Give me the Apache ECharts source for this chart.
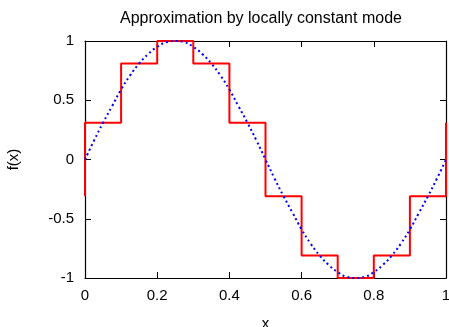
<!DOCTYPE html>
<html>
<head>
<meta charset="utf-8">
<script src="https://cdn.jsdelivr.net/npm/echarts@6/dist/echarts.min.js"></script>
<style>
  html, body { margin: 0; padding: 0; background: #fff; }
  #chart { width: 449px; height: 327px; }
</style>
</head>
<body>
<div id="chart"></div>
<script>
// blue dotted curve, every 0.025
var curveX = [0, 0.025, 0.05, 0.075, 0.1, 0.125, 0.15, 0.175, 0.2, 0.225, 0.25,
  0.275, 0.3, 0.325, 0.35, 0.375, 0.4, 0.425, 0.45, 0.475, 0.5,
  0.525, 0.55, 0.575, 0.6, 0.625, 0.65, 0.675, 0.7, 0.725, 0.75,
  0.775, 0.8, 0.825, 0.85, 0.875, 0.9, 0.925, 0.95, 0.975, 1];
var curveY = [0, 0.16, 0.31, 0.45, 0.59, 0.71, 0.81, 0.89, 0.95, 0.99, 1,
  0.99, 0.95, 0.89, 0.81, 0.71, 0.59, 0.45, 0.31, 0.16, 0,
  -0.16, -0.31, -0.45, -0.59, -0.71, -0.81, -0.89, -0.95, -0.99, -1,
  -0.99, -0.95, -0.89, -0.81, -0.71, -0.59, -0.45, -0.31, -0.16, 0];

// red step function: breakpoints and the level held on each interval
var stepEdges = [0, 0.1, 0.2, 0.3, 0.4, 0.5, 0.6, 0.7, 0.8, 0.9, 1];
var stepLevels = [0.31, 0.81, 1, 0.81, 0.31, -0.31, -0.81, -1, -0.81, -0.31];
var startLevel = -0.31;
var endLevel = 0.31;

var curveData = curveX.map(function (x, i) { return [x, curveY[i]]; });

var stepData = [[stepEdges[0], startLevel]];
for (var i = 0; i < stepLevels.length; i++) {
  stepData.push([stepEdges[i], stepLevels[i]]);
  stepData.push([stepEdges[i + 1], stepLevels[i]]);
}
stepData.push([stepEdges[stepEdges.length - 1], endLevel]);

var font = 'Liberation Sans, Helvetica, Arial, sans-serif';

// box axis: mirrored ticks pointing inward, no labels on the copies
function boxAxis(pos, min, max, step, withLabels) {
  return {
    type: 'value',
    position: pos,
    min: min, max: max, interval: step,
    axisLine: { show: true, onZero: false, lineStyle: { color: '#000', width: 1.2 } },
    axisTick: { show: true, inside: true, length: 6, lineStyle: { color: '#000' } },
    axisLabel: { show: withLabels, fontFamily: font, fontSize: 15, color: '#000' },
    splitLine: { show: false }
  };
}

var xMain = boxAxis('bottom', 0, 1, 0.2, true);
xMain.axisLabel.margin = 10;
xMain.name = 'x';
xMain.nameLocation = 'middle';
xMain.nameGap = 38;
xMain.nameTextStyle = { fontFamily: font, fontSize: 15, color: '#000' };

var yMain = boxAxis('left', -1, 1, 0.5, true);
yMain.axisLabel.margin = 11;
yMain.name = 'f(x)';
yMain.nameLocation = 'middle';
yMain.nameGap = 64;
yMain.nameRotate = 90;
yMain.nameTextStyle = { fontFamily: font, fontSize: 15, color: '#000' };

var chart = echarts.init(document.getElementById('chart'));
var option = {
  backgroundColor: '#fff',
  animation: false,
  title: {
    text: 'Approximation by locally constant mode',
    left: 115,
    top: 6,
    textStyle: { fontFamily: font, fontSize: 16, fontWeight: 'normal', color: '#000' }
  },
  grid: { left: 85, right: 3, top: 41, bottom: 49, containLabel: false, outerBoundsMode: 'none' },
  xAxis: [xMain, boxAxis('top', 0, 1, 0.2, false)],
  yAxis: [yMain, boxAxis('right', -1, 1, 0.5, false)],
  series: [{
    type: 'line',
    data: curveData,
    smooth: true,
    showSymbol: false,
    lineStyle: { color: '#0000ff', width: 2, type: [2, 3] },
    z: 3
  }, {
    type: 'line',
    data: stepData,
    showSymbol: false,
    lineStyle: { color: '#ff0000', width: 2 },
    z: 2
  }]
};
chart.setOption(option);
</script>
</body>
</html>
